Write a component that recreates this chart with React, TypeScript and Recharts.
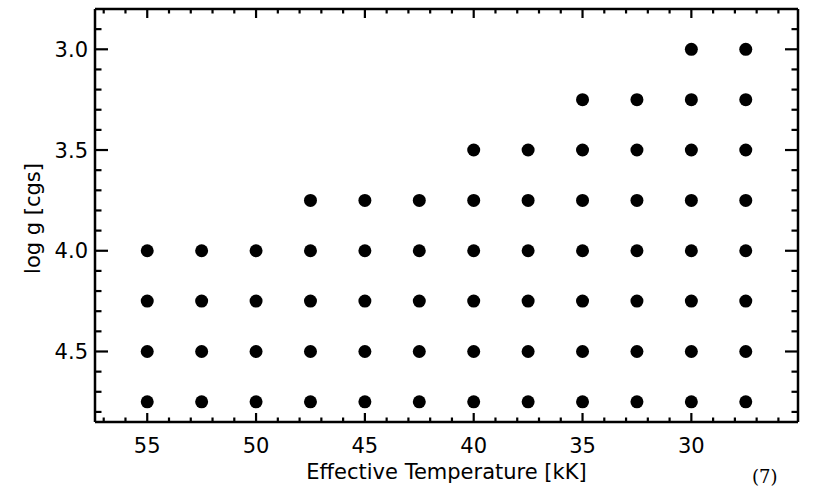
import { Label, Scatter, ScatterChart, XAxis, YAxis } from 'recharts'

const temps = [55, 52.5, 50, 47.5, 45, 42.5, 40, 37.5, 35, 32.5, 30, 27.5]
const loggTop = [4.0, 4.0, 4.0, 3.75, 3.75, 3.75, 3.5, 3.5, 3.25, 3.25, 3.0, 3.0]
const loggLevels = [3.0, 3.25, 3.5, 3.75, 4.0, 4.25, 4.5, 4.75]

const xMajor = [55, 50, 45, 40, 35, 30]
const xTicks = [26, 27, 28, 29, 30, 31, 32, 33, 34, 35, 36, 37, 38, 39, 40, 41, 42, 43, 44, 45, 46, 47, 48, 49, 50, 51, 52, 53, 54, 55, 56, 57]
const yMajor = [3.0, 3.5, 4.0, 4.5]
const yTicks = [2.9, 3.0, 3.1, 3.2, 3.3, 3.4, 3.5, 3.6, 3.7, 3.8, 3.9, 4.0, 4.1, 4.2, 4.3, 4.4, 4.5, 4.6, 4.7, 4.8]

const grid = temps.flatMap((t, i) =>
  loggLevels.filter((g) => g >= loggTop[i]).map((g) => ({ teff: t, logg: g }))
)

const font = 'DejaVu Sans'
const ink = '#000'

function XTick({ x, y, payload, side }: any) {
  const major = xMajor.includes(payload.value)
  const len = major ? 9 : 4.5
  const dir = side === 'top' ? 1 : -1
  return (
    <g>
      <line x1={x} x2={x} y1={y} y2={y + dir * len} stroke={ink} strokeWidth={2.2} />
      {major && side === 'bottom' && (
        <text x={x} y={y + 31} textAnchor='middle' fontFamily={font} fontSize={21} fill={ink}>
          {payload.value}
        </text>
      )}
    </g>
  )
}

function YTick({ x, y, payload, side }: any) {
  const major = yMajor.some((v) => Math.abs(v - payload.value) < 1e-6)
  const len = major ? 13 : 6.5
  const dir = side === 'left' ? 1 : -1
  return (
    <g>
      <line x1={x} x2={x + dir * len} y1={y} y2={y} stroke={ink} strokeWidth={2.2} />
      {major && side === 'left' && (
        <text x={x - 7} y={y} dy='0.36em' textAnchor='end' fontFamily={font} fontSize={21} fill={ink}>
          {payload.value.toFixed(1)}
        </text>
      )}
    </g>
  )
}

function XTitle({ viewBox }: any) {
  return (
    <text x={viewBox.x + viewBox.width / 2} y={viewBox.y + 57} textAnchor='middle' fontFamily={font} fontSize={21} fill={ink}>
      Effective Temperature [kK]
    </text>
  )
}

function YTitle({ viewBox }: any) {
  const cx = viewBox.x + 32
  const cy = viewBox.y + viewBox.height / 2 + 3
  return (
    <text x={cx} y={cy} dy='0.36em' textAnchor='middle' transform={`rotate(-90 ${cx} ${cy})`} fontFamily={font} fontSize={21} fill={ink}>
      log g [cgs]
    </text>
  )
}

export default function App() {
  return (
    <div style={{ position: 'absolute', left: 0, top: 0, width: 818, height: 490, background: '#fff' }}>
      <ScatterChart width={818} height={490} margin={{ top: 8, right: 19, bottom: 0, left: 0 }}>
        <XAxis
          xAxisId='bottom'
          type='number'
          dataKey='teff'
          domain={[25.1, 57.4]}
          reversed
          allowDataOverflow
          ticks={xTicks}
          interval={0}
          height={68}
          tickSize={0}
          tickMargin={0}
          axisLine={{ stroke: ink, strokeWidth: 2.5 }}
          tick={<XTick side='bottom' />}
        >
          <Label content={<XTitle />} />
        </XAxis>
        <XAxis
          xAxisId='top'
          orientation='top'
          type='number'
          dataKey='teff'
          domain={[25.1, 57.4]}
          reversed
          allowDataOverflow
          ticks={xTicks}
          interval={0}
          height={1}
          tickSize={0}
          tickMargin={0}
          axisLine={{ stroke: ink, strokeWidth: 2.5 }}
          tick={<XTick side='top' />}
        />
        <YAxis
          yAxisId='left'
          type='number'
          dataKey='logg'
          domain={[2.8, 4.85]}
          reversed
          allowDataOverflow
          ticks={yTicks}
          interval={0}
          width={95}
          tickSize={0}
          tickMargin={0}
          axisLine={{ stroke: ink, strokeWidth: 2.5 }}
          tick={<YTick side='left' />}
        >
          <Label content={<YTitle />} />
        </YAxis>
        <YAxis
          yAxisId='right'
          orientation='right'
          type='number'
          dataKey='logg'
          domain={[2.8, 4.85]}
          reversed
          allowDataOverflow
          ticks={yTicks}
          interval={0}
          width={1}
          tickSize={0}
          tickMargin={0}
          axisLine={{ stroke: ink, strokeWidth: 2.5 }}
          tick={<YTick side='right' />}
        />
        <Scatter
          data={grid}
          xAxisId='bottom'
          yAxisId='left'
          fill={ink}
          shape={(p: any) => <circle cx={p.cx} cy={p.cy} r={6.5} fill={ink} />}
          isAnimationActive={false}
        />
        <Scatter
          data={grid}
          xAxisId='top'
          yAxisId='right'
          shape={() => <g />}
          isAnimationActive={false}
        />
      </ScatterChart>
      <div style={{ position: 'absolute', left: 752, top: 466, fontFamily: 'DejaVu Serif', fontSize: 18, color: ink }}>
        (7)
      </div>
    </div>
  )
}
